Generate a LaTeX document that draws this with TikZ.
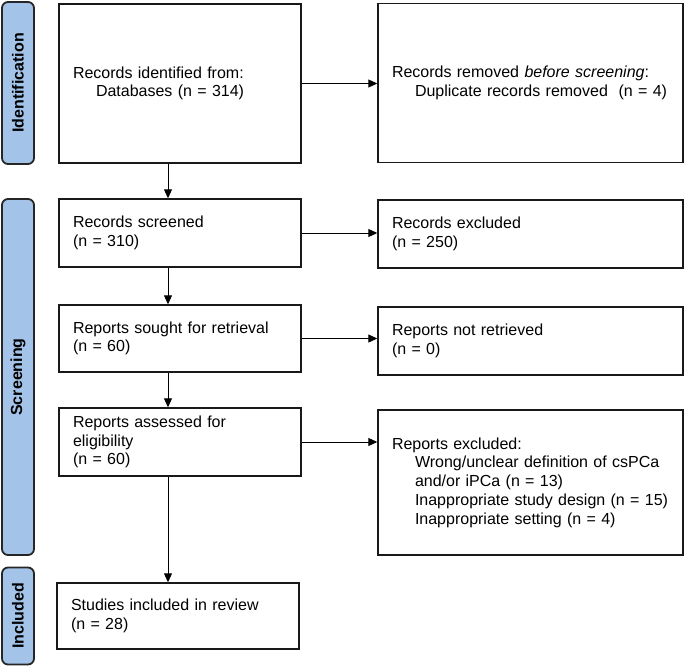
\documentclass[tikz,border=0pt]{standalone}
\usepackage{tikz}
\usepackage{fontspec}
\usepackage{xcolor}
\setmainfont{Liberation Sans}
\usetikzlibrary{arrows.meta,positioning,calc}
\definecolor{phaseblue}{RGB}{164,195,232}
\newcommand{\pind}{\hspace*{23pt}}

\begin{document}
\begin{tikzpicture}[x=1pt,y=-1pt,
    box/.style={draw=black!90,line width=1.4pt,align=left,inner xsep=14pt,inner ysep=0pt,font=\fontsize{16}{18.7}\selectfont},
    lbox/.style={box,text width=214pt},
    rbox/.style={box,text width=277pt},
    phase/.style={draw=black!85,line width=1.8pt,fill=phaseblue,rounded corners=6pt,rotate=90,minimum height=32pt,inner sep=0pt,font=\fontsize{16}{18.7}\selectfont\bfseries},
    arr/.style={-{Triangle[length=9pt,width=8pt]},line width=0.9pt}]
      \useasboundingbox (0,0) rectangle (685,666);
      \node[phase,minimum width=162pt] (idb) at (18,83) {Identification};
      \node[phase,minimum width=356pt] (scb) at (18,377) {Screening};
      \node[phase,minimum width=97pt] (inb) at (18,616) {Included};
      \node[lbox,minimum height=159pt] (idf) at (180,83.5) {Records identified from:\\\pind Databases (n = 314)};
      \node[rbox,minimum height=159pt] (rem) at (530.5,83) {Records removed \textit{before screening}:\\\pind Duplicate records removed~ (n = 4)};
      \node[lbox,minimum height=68pt] (scr) at (180,233) {Records screened\\(n = 310)};
      \node[rbox,minimum height=68pt] (exc) at (530.5,234) {Records excluded\\(n = 250)};
      \node[lbox,minimum height=67pt] (sgt) at (180,338.5) {Reports sought for retrieval\\(n = 60)};
      \node[rbox,minimum height=68pt] (nret) at (530.5,341) {Reports not retrieved\\(n = 0)};
      \node[lbox,minimum height=68pt] (asd) at (180,442) {Reports assessed for\\eligibility\\(n = 60)};
      \node[rbox,minimum height=145pt] (rexc) at (530.5,482.5) {Reports excluded:\\\pind Wrong/unclear definition of csPCa\\\pind and/or iPCa (n = 13)\\\pind Inappropriate study design (n = 15)\\\pind Inappropriate setting (n = 4)};
      \node[lbox,minimum height=66pt] (inc) at (178,616) {Studies included in review\\(n = 28)};
      \draw[arr] (idf.east) -- (idf.east -| rem.west);
      \draw[arr] (scr.east) -- (scr.east -| exc.west);
      \draw[arr] (sgt.east) -- (sgt.east -| nret.west);
      \draw[arr] (asd.east) -- (asd.east -| rexc.west);
      \draw[arr] ([xshift=-12pt]idf.south) -- ([xshift=-12pt]idf.south |- scr.north);
      \draw[arr] ([xshift=-12pt]scr.south) -- ([xshift=-12pt]scr.south |- sgt.north);
      \draw[arr] ([xshift=-12pt]sgt.south) -- ([xshift=-12pt]sgt.south |- asd.north);
      \draw[arr] ([xshift=-12pt]asd.south) -- ([xshift=-12pt]asd.south |- inc.north);
    \end{tikzpicture}
\end{document}
